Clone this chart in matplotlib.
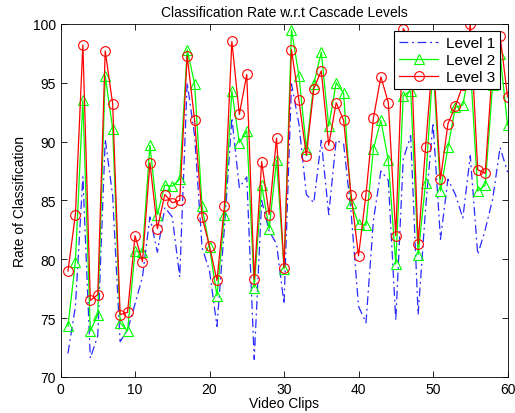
import matplotlib
matplotlib.use('Agg')
import matplotlib.pyplot as plt

clips = list(range(1, 61))

level1 = [72.0, 76.0, 87.0, 71.6, 73.5, 90.2, 85.4, 73.0, 74.0, 76.2,
          78.5, 83.6, 80.6, 84.4, 83.6, 78.5, 95.0, 90.5, 81.0, 79.0,
          74.3, 82.7, 92.0, 86.1, 87.0, 71.5, 85.0, 82.4, 81.3, 76.2,
          94.9, 91.5, 85.5, 84.8, 90.1, 83.8, 90.1, 89.8, 84.0, 76.0,
          74.6, 83.3, 87.5, 86.7, 74.8, 88.5, 90.5, 75.3, 84.3, 91.6,
          81.7, 86.8, 85.5, 83.5, 88.8, 80.4, 82.5, 85.1, 89.5, 87.4]

level2 = [74.3, 79.8, 93.5, 73.9, 75.3, 95.6, 91.1, 74.6, 73.9, 80.7,
          80.6, 89.7, 83.8, 86.3, 86.2, 86.8, 97.8, 94.9, 84.5, 81.0,
          76.9, 83.8, 94.3, 89.9, 90.9, 77.6, 86.3, 82.6, 88.4, 79.2,
          99.5, 95.6, 89.4, 94.9, 97.6, 91.3, 95.0, 94.1, 84.8, 83.0,
          82.9, 89.4, 91.8, 88.4, 79.6, 93.9, 94.3, 80.4, 86.5, 96.5,
          85.8, 89.5, 92.9, 93.1, 96.5, 85.8, 86.3, 94.8, 97.4, 91.4]

level3 = [79.0, 83.8, 98.2, 76.5, 77.0, 97.7, 93.2, 75.3, 75.5, 82.0,
          79.8, 88.2, 82.6, 85.5, 84.8, 85.0, 97.3, 91.8, 83.6, 81.1,
          78.2, 84.5, 98.5, 92.3, 95.7, 78.3, 88.3, 83.8, 90.3, 79.3,
          97.8, 93.5, 88.8, 94.5, 96.0, 89.7, 93.3, 91.8, 85.5, 80.3,
          85.5, 92.0, 95.5, 93.3, 82.0, 99.6, 98.5, 81.3, 89.5, 97.5,
          86.8, 91.5, 93.0, 94.8, 100.0, 87.6, 87.3, 96.5, 99.0, 93.8]

plt.rcParams['font.family'] = ['Liberation Sans', 'DejaVu Sans']
plt.rcParams['font.size'] = 10

fig = plt.figure(figsize=(5.15, 4.14), dpi=100)
ax = fig.add_axes([0.1175, 0.087, 0.868, 0.853])

ax.plot(clips, level1, color='#2a2aff', linestyle=(0, (7, 3, 1.5, 3)), linewidth=0.9,
        label='Level 1')
ax.plot(clips, level2, color='#00ff00', linestyle='-', linewidth=0.9, marker='^',
        markersize=7, markerfacecolor='none', markeredgewidth=0.8, label='Level 2')
ax.plot(clips, level3, color='#ff0000', linestyle='-', linewidth=0.9, marker='o',
        markersize=7, markerfacecolor='none', markeredgewidth=0.8, label='Level 3')

ax.set_xlim(0, 60)
ax.set_ylim(70, 100)
ax.set_xticks(range(0, 61, 10))
ax.set_yticks(range(70, 101, 5))
ax.tick_params(direction='in', top=True, right=True, length=4, width=0.6)
for s in ax.spines.values():
    s.set_linewidth(0.6)

ax.set_title('Classification Rate w.r.t Cascade Levels', fontsize=10, pad=6)
ax.set_xlabel('Video Clips', labelpad=0)
ax.set_ylabel('Rate of Classification', labelpad=4)

leg = ax.legend(loc='upper right', fancybox=False, edgecolor='black', framealpha=1,
                borderaxespad=0.5, handlelength=2.6, labelspacing=0.2,
                borderpad=0.3, handletextpad=0.5, fontsize=11)
leg.get_frame().set_linewidth(0.8)

fig.savefig('out.png', dpi=100)
